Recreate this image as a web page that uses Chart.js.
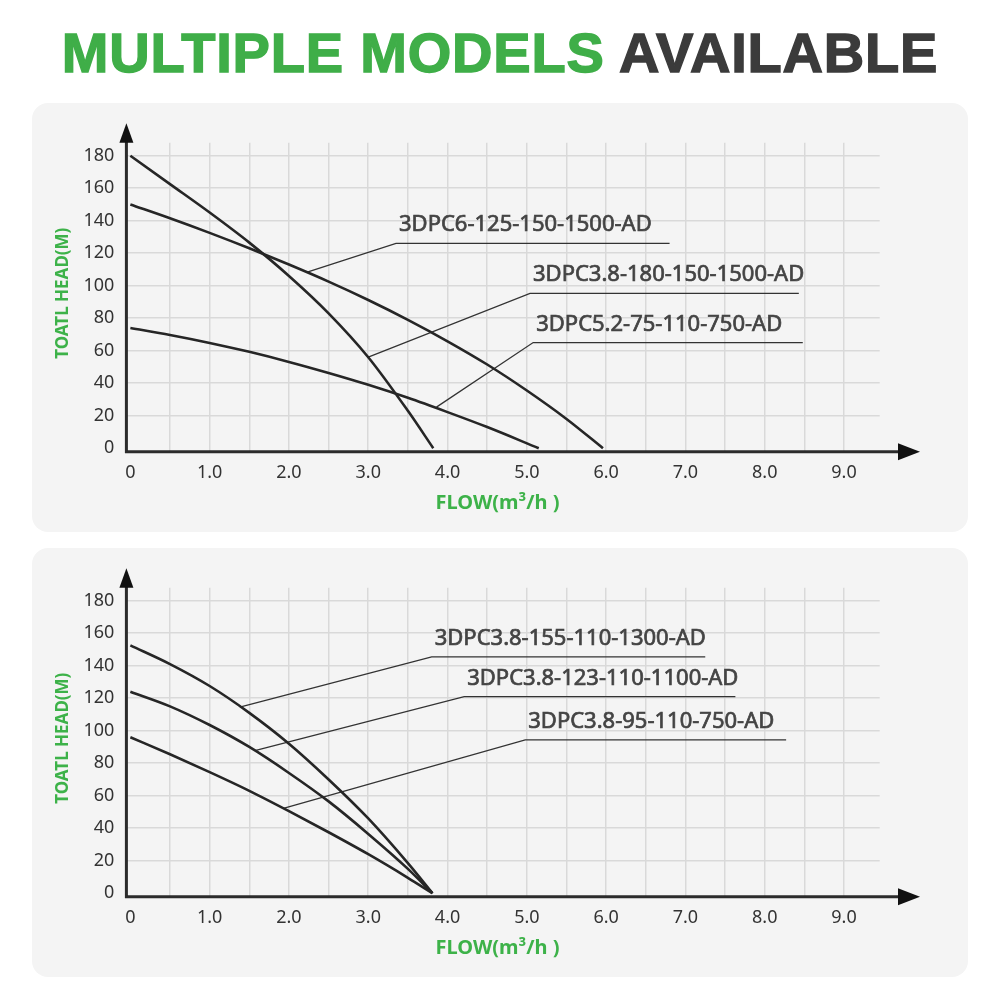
<!DOCTYPE html>
<html>
<head>
<meta charset="utf-8">
<title>Multiple models available</title>
<script src="https://cdn.jsdelivr.net/npm/chart.js@4.4.1/dist/chart.umd.min.js"></script>
<style>
  html, body { margin: 0; padding: 0; background: #fff; }
  body { width: 1000px; height: 1000px; position: relative; overflow: hidden; }
  h1 {
    position: absolute; left: 0; top: 25px; width: 1000px; margin: 0;
    text-align: center; font: bold 56px/56px 'Liberation Sans', Arial, sans-serif;
    letter-spacing: 0.8px;
  }
  h1 .g { color: #3fae48; -webkit-text-stroke: 1.4px #3fae48; }
  h1 .d { color: #3b3b3b; -webkit-text-stroke: 1.4px #3b3b3b; }
  .panel { position: absolute; left: 32px; width: 936px; height: 429px; background: #f4f4f4; border-radius: 16px; }
  .panel canvas { position: absolute; left: 0; top: 0; }
</style>
</head>
<body>
<h1><span class="g">MULTIPLE MODELS</span> <span class="d">AVAILABLE</span></h1>
<div class="panel" style="top:103px"><canvas id="chartTop" width="936" height="429"></canvas></div>
<div class="panel" style="top:548px"><canvas id="chartBottom" width="936" height="429"></canvas></div>

<script>
// tick positions (grid every 0.5 m3/h, every 20 m)
const flowTicks = [0, 0.5, 1, 1.5, 2, 2.5, 3, 3.5, 4, 4.5, 5, 5.5, 6, 6.5, 7, 7.5, 8, 8.5, 9];
const headTicks = [0, 20, 40, 60, 80, 100, 120, 140, 160, 180];

// top panel
const topNames = ['3DPC6-125-150-1500-AD', '3DPC3.8-180-150-1500-AD', '3DPC5.2-75-110-750-AD'];
const flow6 = [0, 0.5, 1, 1.5, 2, 2.5, 3, 3.5, 4, 4.5, 5, 5.5, 5.96];
const head6 = [150, 141.5, 132.5, 123, 113, 102.5, 91.2, 79, 65.8, 51.5, 35.5, 18, 0];
const flow38a = [0, 0.5, 1, 1.5, 2, 2.5, 3, 3.5, 3.82];
const head38a = [180, 162.5, 145, 126.5, 106, 83, 56, 23, 0];
const flow52 = [0, 0.5, 1, 1.5, 2, 2.5, 3, 3.5, 4, 4.5, 5.15];
const head52 = [74, 69.7, 64.8, 59.3, 53.1, 46.3, 39, 31, 22.2, 13, 0];
// leader lines [flow, head]: point on curve -> elbow -> end of underline
const lead6 = [[2.24, 108.5], [3.35, 126], [6.8, 126]];
const lead38a = [[3.0, 56], [5.04, 95.3], [8.43, 95.3]];
const lead52 = [[3.86, 25.3], [5.08, 65], [8.48, 65]];

// bottom panel
const bottomNames = ['3DPC3.8-155-110-1300-AD', '3DPC3.8-123-110-1100-AD', '3DPC3.8-95-110-750-AD'];
const flow38 = [0, 0.5, 1, 1.5, 2, 2.5, 3, 3.5, 3.81];
const head155 = [152.5, 141, 127.5, 111, 92, 70, 46, 18.5, 0];
const head123 = [124, 115, 103.5, 90, 74, 56.5, 36.5, 15, 0];
const head95 = [96, 85.5, 74.5, 63, 50.5, 37.5, 24, 9.5, 0];
const lead155 = [[1.38, 114.5], [3.8, 145.4], [7.25, 145.4]];
const lead123 = [[1.57, 87.8], [4.21, 121], [7.63, 121]];
const lead95 = [[1.93, 52.2], [4.98, 94.3], [8.27, 94.3]];

Chart.defaults.font.family = "'Noto Sans', sans-serif";

function toPoints(xs, ys) {
  return xs.map((v, i) => ({ x: v, y: ys[i] }));
}

function extras(names, leaders) {
  return {
    id: 'extras',
    afterDraw(chart) {
      const { ctx, chartArea: a, scales: { x, y } } = chart;
      ctx.save();
      // axes with arrows
      ctx.strokeStyle = '#2b2b2b';
      ctx.lineWidth = 3;
      ctx.beginPath();
      ctx.moveTo(a.left, a.bottom);
      ctx.lineTo(a.left, a.top - 2);
      ctx.moveTo(a.left - 1.5, a.bottom);
      ctx.lineTo(a.right + 22, a.bottom);
      ctx.stroke();
      ctx.fillStyle = '#111';
      ctx.beginPath();
      ctx.moveTo(a.left, a.top - 19.5);
      ctx.lineTo(a.left - 7, a.top);
      ctx.lineTo(a.left + 7, a.top);
      ctx.closePath();
      ctx.fill();
      ctx.beginPath();
      ctx.moveTo(a.right + 40.3, a.bottom);
      ctx.lineTo(a.right + 18.3, a.bottom - 8.5);
      ctx.lineTo(a.right + 18.3, a.bottom + 8.5);
      ctx.closePath();
      ctx.fill();

      // model names above the leader underlines
      ctx.font = "22px 'Noto Sans'";
      ctx.fillStyle = '#444';
      ctx.strokeStyle = '#444';
      ctx.lineWidth = 0.7;
      ctx.textAlign = 'left';
      ctx.textBaseline = 'alphabetic';
      names.forEach((n, i) => {
        const p = leaders[i][1];
        const tx = x.getPixelForValue(p[0]) + 3;
        const ty = y.getPixelForValue(p[1]) - 12;
        ctx.fillText(n, tx, ty);
        ctx.strokeText(n, tx, ty);
      });

      // axis titles
      ctx.fillStyle = '#3db249';
      ctx.textAlign = 'center';
      ctx.textBaseline = 'middle';
      ctx.font = "bold 20px 'Noto Sans'";
      ctx.fillText('FLOW(m³/h )', (a.left + a.right) / 2 - 5.5, a.bottom + 51.6);
      ctx.font = "bold 17px 'Noto Sans'";
      ctx.translate(a.left - 63, (a.top + a.bottom) / 2 - 4);
      ctx.rotate(-Math.PI / 2);
      ctx.fillText('TOATL HEAD(M)', 0, 0);
      ctx.restore();
    }
  };
}

function makeChart(id, curves, leaders, names) {
  const datasets = curves.map(c => ({
    data: toPoints(c[0], c[1]),
    borderColor: '#262626',
    borderWidth: 2.6,
    pointRadius: 0,
    cubicInterpolationMode: 'monotone',
    fill: false
  })).concat(leaders.map(l => ({
    data: l.map(p => ({ x: p[0], y: p[1] })),
    borderColor: '#333',
    borderWidth: 1.3,
    pointRadius: 0,
    tension: 0,
    fill: false
  })));

  return new Chart(document.getElementById(id), {
    type: 'line',
    data: { datasets: datasets },
    options: {
      responsive: false,
      animation: false,
      events: [],
      layout: { padding: { left: 22.3, right: 88.3, top: 39.7, bottom: 17.9 } },
      plugins: { legend: { display: false }, tooltip: { enabled: false } },
      scales: {
        x: {
          type: 'linear',
          min: -0.05,
          max: 9.45,
          afterBuildTicks: s => { s.ticks = flowTicks.map(v => ({ value: v })); },
          afterFit: s => { s.height = 62.4; },
          border: { display: false },
          grid: {
            color: c => (c.tick && c.tick.value === 0) ? 'rgba(0,0,0,0)' : '#d9d9d9',
            lineWidth: 1.5,
            drawTicks: false
          },
          ticks: {
            autoSkip: false,
            maxRotation: 0,
            padding: 10,
            color: '#333',
            font: { size: 18 },
            callback: v => v === 0 ? '0' : (v % 1 === 0 ? v.toFixed(1) : '')
          }
        },
        y: {
          type: 'linear',
          min: -2.15,
          max: 188,
          afterBuildTicks: s => { s.ticks = headTicks.map(v => ({ value: v })); },
          afterFit: s => { s.width = 72.1; },
          border: { display: false },
          grid: {
            color: c => (c.tick && c.tick.value === 0) ? 'rgba(0,0,0,0)' : '#d9d9d9',
            lineWidth: 1.5,
            drawTicks: false
          },
          ticks: {
            padding: 12,
            color: '#333',
            font: { size: 18 },
            callback: v => String(v)
          }
        }
      }
    },
    plugins: [extras(names, leaders)]
  });
}

makeChart('chartTop',
  [[flow6, head6], [flow38a, head38a], [flow52, head52]],
  [lead6, lead38a, lead52],
  topNames);

makeChart('chartBottom',
  [[flow38, head155], [flow38, head123], [flow38, head95]],
  [lead155, lead123, lead95],
  bottomNames);
</script>
</body>
</html>
